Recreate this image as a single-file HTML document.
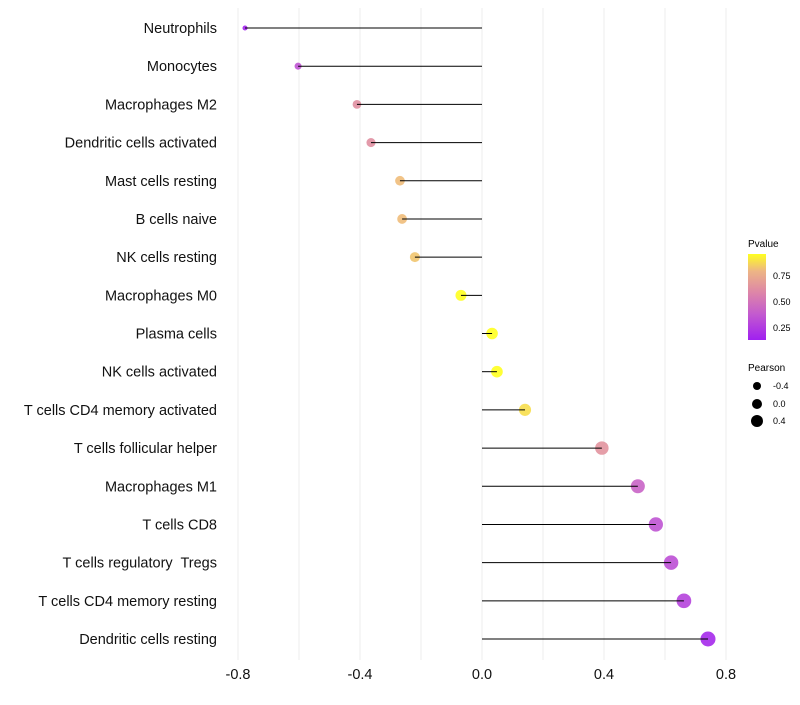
<!DOCTYPE html>
<html><head><meta charset="utf-8"><style>
body{margin:0;background:#fff;font-family:"Liberation Sans",sans-serif}
</style></head><body>
<svg id="chart" width="800" height="700" xmlns="http://www.w3.org/2000/svg">
<defs><linearGradient id="pg" x1="0" y1="1" x2="0" y2="0">
<stop offset="0" stop-color="#A020F0"/><stop offset="0.3" stop-color="#C35ACF"/><stop offset="0.55" stop-color="#DD85A8"/><stop offset="0.8" stop-color="#EDB585"/><stop offset="1" stop-color="#FFFF20"/></linearGradient></defs>
<g id="grid"></g>
<g id="marks"></g>
<g id="labels"></g>
<g id="xticks"></g>
<g font-size="10">
<text x="748" y="247" font-size="10">Pvalue</text>
<rect x="748" y="254" width="18" height="86" fill="url(#pg)"/>
<text x="773" y="279" font-size="9">0.75</text>
<text x="773" y="305" font-size="9">0.50</text>
<text x="773" y="331" font-size="9">0.25</text>
</g>
<g>
<text x="748" y="371" font-size="10">Pearson</text>
<circle cx="757" cy="386" r="4" fill="#000"/>
<circle cx="757" cy="404" r="5" fill="#000"/>
<circle cx="757" cy="421" r="6" fill="#000"/>
<text x="773" y="389" font-size="9">-0.4</text>
<text x="773" y="407" font-size="9">0.0</text>
<text x="773" y="424" font-size="9">0.4</text>
</g>
</svg>
<script>
const categories=["Neutrophils","Monocytes","Macrophages M2","Dendritic cells activated","Mast cells resting","B cells naive","NK cells resting","Macrophages M0","Plasma cells","NK cells activated","T cells CD4 memory activated","T cells follicular helper","Macrophages M1","T cells CD8","T cells regulatory  Tregs","T cells CD4 memory resting","Dendritic cells resting"];
const pearson=[-0.777,-0.603,-0.41,-0.364,-0.269,-0.262,-0.22,-0.069,0.033,0.049,0.141,0.393,0.511,0.570,0.620,0.662,0.741];
const pvalues=[0.08,0.3,0.6,0.6,0.8,0.8,0.82,0.97,0.97,0.97,0.88,0.62,0.38,0.3,0.28,0.22,0.1];
const xTicks=[-0.8,-0.4,0,0.4,0.8];
const xTickLabels=["-0.8","-0.4","0.0","0.4","0.8"];
const ns="http://www.w3.org/2000/svg";
const X=v=>482+v*305;
const Y=i=>28+i*(639-28)/16;
const pmin=Math.min(...pearson),pmax=Math.max(...pearson);
const R=v=>Math.sqrt(5+47*(v-pmin)/(pmax-pmin))+0.3;
const stops=[[0,[160,32,240]],[0.3,[195,90,207]],[0.55,[221,133,168]],[0.8,[237,181,133]],[1,[255,255,32]]];
function col(p){let t=(p-0.06)/0.9;t=Math.max(0,Math.min(1,t));for(let k=1;k<stops.length;k++){if(t<=stops[k][0]){const a=stops[k-1],b=stops[k];const f=(t-a[0])/(b[0]-a[0]);return "rgb("+a[1].map((c,j)=>Math.round(c+(b[1][j]-c)*f)).join(",")+")";}}return "rgb(255,255,32)";}
function mk(t,a,parent){const e=document.createElementNS(ns,t);for(const k in a)e.setAttribute(k,a[k]);parent.appendChild(e);return e;}
const grid=document.getElementById('grid');
for(let v=-0.8;v<=0.801;v+=0.2){const g=mk('line',{x1:X(v),x2:X(v),y1:8,y2:660,stroke:'#ededed','stroke-width':1},grid);

}
const marks=document.getElementById('marks'),labels=document.getElementById('labels');
categories.forEach((c,i)=>{
 const y=Y(i);
 const circ=mk('circle',{cx:X(pearson[i]),cy:y,r:R(pearson[i]),fill:col(pvalues[i]),'fill-opacity':0.9},marks);
 
 
 const ln=mk('line',{x1:X(0),x2:X(pearson[i]),y1:y,y2:y,stroke:'#000','stroke-width':1},marks);
 
 
 const t=mk('text',{x:217,y:y+5,'text-anchor':'end','font-size':14.5,fill:'#111','xml:space':'preserve',style:'white-space:pre'},labels);
 t.textContent=c;
 
 
});
const xt=document.getElementById('xticks');
xTicks.forEach((v,i)=>{const t=mk('text',{x:X(v),y:679,'text-anchor':'middle','font-size':14.5,fill:'#111'},xt);
t.textContent=xTickLabels[i];

});
</script>
</body></html>
